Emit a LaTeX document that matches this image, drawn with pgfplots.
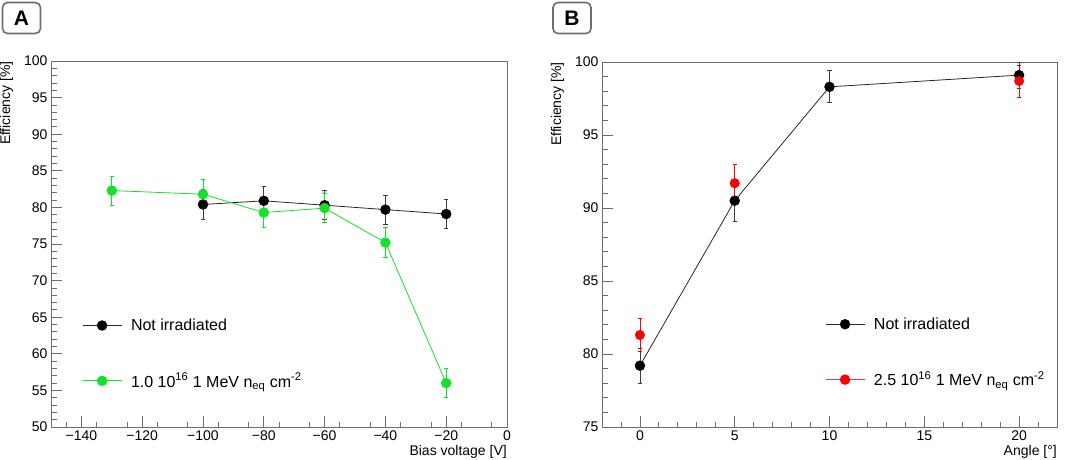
\documentclass[border=0pt]{standalone}
\usepackage{pgfplots}
\pgfplotsset{compat=1.18}
\usepackage{fontspec}
\setmainfont{Liberation Sans}
\definecolor{rgreen}{RGB}{20,225,40}
\definecolor{rred}{RGB}{255,0,0}
\definecolor{framec}{RGB}{110,110,110}
\definecolor{ebar}{RGB}{60,60,60}
\definecolor{lblack}{RGB}{40,40,40}

\pgfplotsset{
 rootstyle/.style={
  scale only axis,
  axis line style={framec, line width=0.9pt},
  tick style={framec, line width=0.8pt},
  tick align=inside,
  xtick pos=bottom, ytick pos=left,
  major tick length=11pt, minor tick length=5.5pt,
  /pgf/number format/assume math mode=true,
  ticklabel style={font=\fontsize{14}{16}\selectfont, text=black},
  label style={font=\fontsize{14}{16}\selectfont, inner sep=0pt},
  legend cell align=left,
  legend style={draw=none, fill=none, font=\fontsize{16}{18}\selectfont, inner sep=0pt, nodes={inner sep=0pt}, row sep=41pt},
  legend image code/.code={\draw[##1, mark repeat=2, mark phase=2] plot coordinates {(0pt,0pt) (19.5pt,0pt) (39pt,0pt)};},
  every axis legend/.append style={/tikz/column 1/.style={column sep=9pt}},
 },
 ebars/.style={/pgfplots/error bars/y dir=both, /pgfplots/error bars/y explicit, /pgfplots/error bars/error mark=-, /pgfplots/error bars/error mark options={rotate=90, mark size=2.2pt, line width=0.8pt, #1}, /pgfplots/error bars/error bar style={line width=0.8pt, #1}},
}

\begin{document}
\begin{tikzpicture}
\path[use as bounding box] (0pt,0pt) rectangle (1065pt,459pt);

% Panel labels
\node[draw=framec, rounded corners=5pt, line width=1.6pt, minimum width=38pt, minimum height=31pt, inner sep=0pt, font=\bfseries\fontsize{21}{21}\selectfont] at (21.5pt,441pt) {A};
\node[draw=framec, rounded corners=5pt, line width=1.6pt, minimum width=38pt, minimum height=31pt, inner sep=0pt, font=\bfseries\fontsize{21}{21}\selectfont] at (572pt,441pt) {B};

% ---------- Panel A ----------
\begin{axis}[rootstyle,
  at={(51pt,32pt)}, anchor=south west,
  width=456pt, height=366pt,
  xmin=-150, xmax=0, ymin=50, ymax=100,
  xtick={-140,-120,-100,-80,-60,-40,-20,0},
  xticklabels={−140,−120,−100,−80,−60,−40,−20,0},
  minor xtick={-145,-135,...,-5},
  ytick={50,55,...,100},
  minor ytick={51,52,...,99},
  xlabel={Bias voltage [V]},
  ylabel={Efficiency [\%]},
  xlabel style={at={(axis description cs:1,-0.049)}, anchor=north east},
  ylabel style={at={(axis description cs:-0.0899,1)}, anchor=base east},
  legend style={at={(axis description cs:0.068,0.20)}, anchor=west},
]
\addplot[forget plot, color=lblack, line width=0.8pt, mark=*, mark size=4.8pt, mark options={fill=black, draw=black}, ebars={ebar}]
  table[x=x, y=y, y error=e] {
  x y e
  -100 80.4 2.0
  -80 80.9 2.0
  -60 80.3 2.0
  -40 79.7 2.0
  -20 79.1 2.0
  };
\addplot[forget plot, color=rgreen, line width=0.8pt, mark=*, mark size=4.8pt, mark options={fill=rgreen, draw=rgreen}, ebars={rgreen}]
  table[x=x, y=y, y error=e] {
  x y e
  -130 82.3 2.0
  -100 81.8 2.0
  -80 79.3 2.0
  -60 79.9 2.0
  -40 75.2 2.0
  -20 56.0 2.0
  };
\addlegendimage{color=lblack, line width=0.8pt, mark=*, mark size=4.8pt, mark options={fill=black, draw=black}}
\addlegendentry{Not irradiated}
\addlegendimage{color=rgreen, line width=0.8pt, mark=*, mark size=4.8pt, mark options={fill=rgreen, draw=rgreen}}
\addlegendentry{1.0 10\textsuperscript{16} 1 MeV n\textsubscript{eq} cm\textsuperscript{-2}}
\end{axis}

% ---------- Panel B ----------
\begin{axis}[rootstyle,
  at={(602pt,32pt)}, anchor=south west,
  width=455pt, height=365pt,
  xmin=-2, xmax=22, ymin=75, ymax=100,
  xtick={0,5,10,15,20},
  minor xtick={-2,-1,...,22},
  ytick={75,80,...,100},
  minor ytick={76,77,...,99},
  xlabel={Angle [°]},
  ylabel={Efficiency [\%]},
  xlabel style={at={(axis description cs:1,-0.049)}, anchor=north east},
  ylabel style={at={(axis description cs:-0.0901,1)}, anchor=base east},
  legend style={at={(axis description cs:0.490,0.204)}, anchor=west},
]
\addplot[forget plot, color=lblack, line width=0.8pt, mark=*, mark size=4.8pt, mark options={fill=black, draw=black}, ebars={ebar}]
  table[x=x, y=y, y error=e] {
  x y e
  0 79.2 1.2
  5 90.5 1.4
  10 98.3 1.1
  20 99.1 0.9
  };
\addplot[forget plot, only marks, color=rred, mark=*, mark size=4.8pt, mark options={fill=rred, draw=rred}, ebars={rred}]
  table[x=x, y=y, y error=e] {
  x y e
  0 81.3 1.15
  5 91.7 1.3
  20 98.7 1.1
  };
\addlegendimage{color=lblack, line width=0.8pt, mark=*, mark size=4.8pt, mark options={fill=black, draw=black}}
\addlegendentry{Not irradiated}
\addlegendimage{color=rred!80, line width=0.8pt, mark=*, mark size=4.8pt, mark options={fill=rred, draw=rred}}
\addlegendentry{2.5 10\textsuperscript{16} 1 MeV n\textsubscript{eq} cm\textsuperscript{-2}}
\end{axis}
\end{tikzpicture}
\end{document}
